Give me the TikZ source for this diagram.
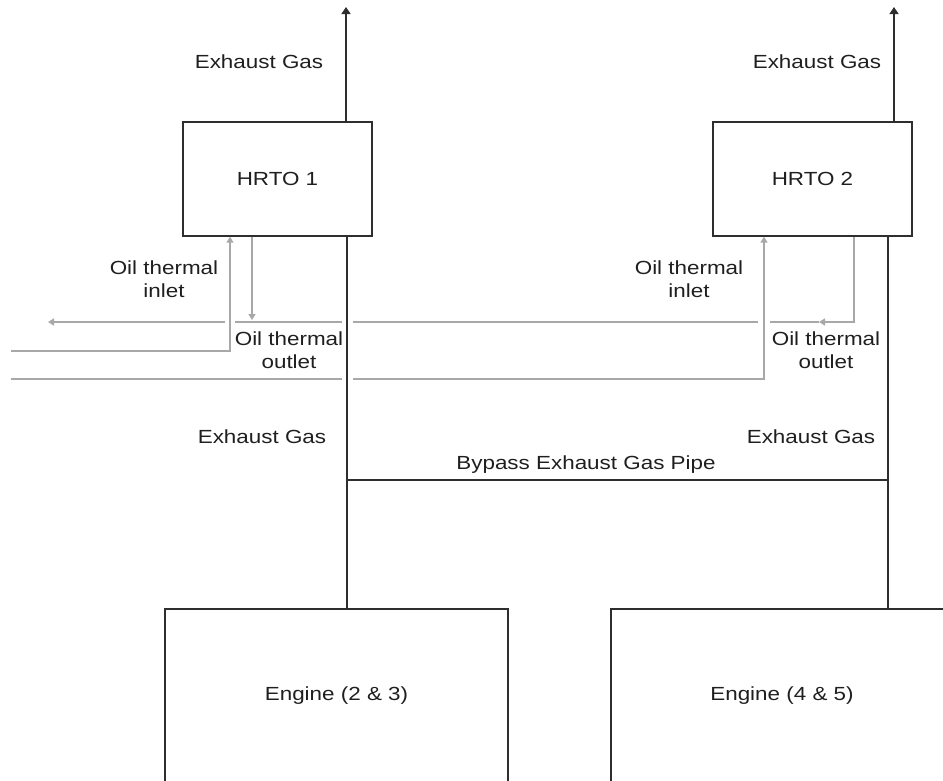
\documentclass[tikz,border=0pt]{standalone}
\usepackage{fontspec}
\setmainfont[FakeStretch=1.18]{Liberation Sans}
\usetikzlibrary{arrows.meta}
\definecolor{pipe}{HTML}{2E2E2E}
\definecolor{oil}{HTML}{A8A8A8}
\begin{document}
\begin{tikzpicture}[x=1pt,y=-1pt,
  every node/.style={font=\fontsize{19}{22.5}\selectfont, text=black!88, align=center},
  unitbox/.style={draw=pipe, line width=1.4pt, inner sep=0pt},
  gaspipe/.style={draw=pipe, line width=1.4pt},
  oilline/.style={draw=oil, line width=1.5pt},
  tip/.style={-{Triangle[length=6pt,width=7pt]}},
  bigtip/.style={-{Triangle[length=7pt,width=9pt]}},
  lbl/.style={inner sep=0pt}]
\useasboundingbox (0,0) rectangle (943,780);
\clip (0,0) rectangle (943,780);

% heat recovery units and engines
\node[unitbox, minimum width=189pt, minimum height=114pt] (hrto1) at (277.5,179) {HRTO 1};
\node[unitbox, minimum width=199pt, minimum height=114pt] (hrto2) at (812.5,179) {HRTO 2};
\node[unitbox, minimum width=343pt, minimum height=174pt] (eng1) at (336.5,696) {Engine (2 \& 3)};
\node[unitbox, minimum width=342pt, minimum height=174pt] (eng2) at (782,696) {Engine (4 \& 5)};

% labels
\node[lbl] (gasA) at (259,62) {Exhaust Gas};
\node[lbl] (gasB) at (817,62) {Exhaust Gas};
\node[lbl] (gasC) at (262,437) {Exhaust Gas};
\node[lbl] (gasD) at (811,437) {Exhaust Gas};
\node[lbl] (bypass) at (586,465) {Bypass Exhaust Gas Pipe};
\node[lbl] (in1) at (164,279) {Oil thermal\\inlet};
\node[lbl] (out1) at (289,350) {Oil thermal\\outlet};
\node[lbl] (in2) at (689,279) {Oil thermal\\inlet};
\node[lbl] (out2) at (826,350) {Oil thermal\\outlet};

% exhaust stacks
\coordinate (top1) at (346,7);
\coordinate (top2) at (894,7);
\draw[gaspipe, bigtip] (hrto1.north -| top1) -- (top1);
\draw[gaspipe, bigtip] (hrto2.north -| top2) -- (top2);
\coordinate (s1) at (347,0);
\coordinate (s2) at (888,0);
\draw[gaspipe] (hrto1.south -| s1) -- (eng1.north -| s1);
\draw[gaspipe] (hrto2.south -| s2) -- (eng2.north -| s2);
\coordinate (bpL) at (347,480);
\coordinate (bpR) at (888,480);
\draw[gaspipe] (bpL) -- (bpR);

% thermal oil circuit of HRTO 1
\coordinate (in1src) at (11,351);
\coordinate (in1up) at (230,351);
\draw[oilline, tip] (in1src) -- (in1up) -- (in1up |- hrto1.south);
\coordinate (out1x) at (252,320);
\draw[oilline, tip] (hrto1.south -| out1x) -- (out1x);

% common outlet header (gaps where it crosses other lines)
\coordinate (o2x) at (854,322);
\coordinate (o2tip) at (819,322);
\draw[oilline, tip] (hrto2.south -| o2x) -- (o2x) -- (o2tip);
\coordinate (h1) at (770,322);
\coordinate (h2) at (758,322);
\coordinate (h3) at (353,322);
\coordinate (h4) at (342,322);
\coordinate (h5) at (235,322);
\coordinate (h6) at (225,322);
\coordinate (hend) at (48,322);
\draw[oilline] (o2tip) -- (h1);
\draw[oilline] (h2) -- (h3);
\draw[oilline] (h4) -- (h5);
\draw[oilline, tip] (h6) -- (hend);

% common inlet header to HRTO 2
\coordinate (i1) at (11,379);
\coordinate (i2) at (342,379);
\coordinate (i3) at (353,379);
\coordinate (i2up) at (764,379);
\draw[oilline] (i1) -- (i2);
\draw[oilline, tip] (i3) -- (i2up) -- (i2up |- hrto2.south);
\end{tikzpicture}
\end{document}
